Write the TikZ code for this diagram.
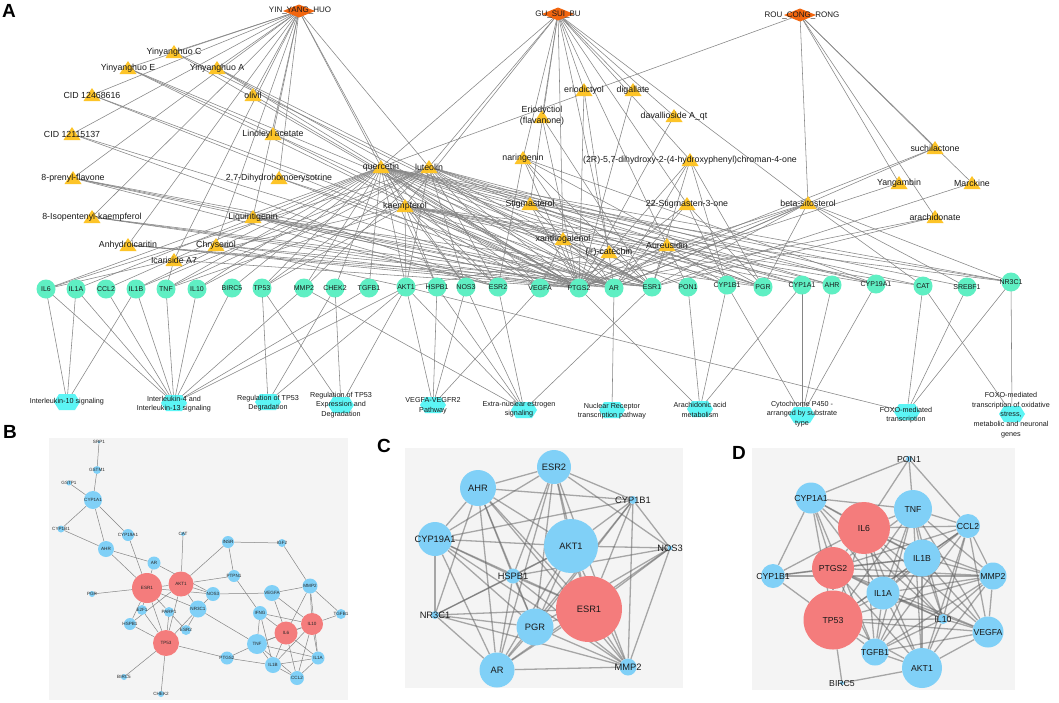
\documentclass[tikz,border=0pt]{standalone}
\usepackage{fontspec}
\setmainfont{Liberation Sans}
\pgfdeclarelayer{bgl}
\pgfdeclarelayer{edgel}
\pgfsetlayers{bgl,edgel,main}
\definecolor{herbc}{HTML}{F2660F}
\definecolor{cmpc}{HTML}{FDC428}
\definecolor{tgtc}{HTML}{5FEFC3}
\definecolor{pwc}{HTML}{5CF5F5}
\definecolor{bluec}{HTML}{80D0F7}
\definecolor{redc}{HTML}{F47C7C}
\definecolor{bgc}{HTML}{F4F4F4}
\definecolor{edgec}{HTML}{858585}
\newcommand\mytri[1]{\fill[cmpc] (#1) ++(0,-7) -- ++(8.5,13) -- ++(-17,0) -- cycle;}
\newcommand\myhex[1]{\fill[pwc] (#1) ++(-13,0) -- ++(5,-8) -- ++(16,0) -- ++(5,8) -- ++(-5,8) -- ++(-16,0) -- cycle;}
\newcommand\mydia[1]{\fill[herbc] (#1) ++(-16,0) -- ++(16,-6.5) -- ++(16,6.5) -- ++(-16,6.5) -- cycle;}
\begin{document}
\begin{tikzpicture}[x=1pt,y=-1pt,
  edgeA/.style={draw=edgec,line width=0.55pt},
  edgeB/.style={draw=edgec,line width=0.5pt},
  edgeC/.style={draw=black!60,line width=1.3pt,opacity=0.55},
  lblA/.style={font=\fontsize{8.8}{10.5}\selectfont,inner sep=0pt,align=center,text=black!90},
  hlbl/.style={font=\fontsize{8}{9}\selectfont,inner sep=0pt,text=black!90},
  tgt/.style={circle,fill=tgtc,minimum size=19pt,inner sep=0pt},
  tlbl/.style={font=\fontsize{7}{8}\selectfont,inner sep=0pt,text=black!90},
  pwl/.style={font=\fontsize{7.2}{9.6}\selectfont,inner sep=0pt,align=center,text=black!90},
  pnode/.style={circle,inner sep=0pt},
  blbl/.style={font=\fontsize{4.6}{5}\selectfont,inner sep=0pt,text=black!85},
  clbl/.style={font=\fontsize{9.3}{10}\selectfont,inner sep=0pt,text=black!90},
  dlbl/.style={font=\fontsize{8.7}{10}\selectfont,inner sep=0pt,text=black!90},
  letter/.style={font=\fontsize{19}{19}\selectfont\bfseries,inner sep=0pt}]
\useasboundingbox (0,0) rectangle (1059,702);
\begin{pgfonlayer}{bgl}
\fill[white] (0,0) rectangle (1059,702);
\fill[bgc] (49,438) rectangle (348,700);
\fill[bgc] (405,448) rectangle (683,688);
\fill[bgc] (752,448) rectangle (1015,690);
\end{pgfonlayer}

% ================= PANEL A =================
\node[letter] (LA) at (9,11) {A};
\coordinate (YYH) at (299,11);
\coordinate (GSB) at (558,14);
\coordinate (RCR) at (800,15);

\coordinate (yC) at (174,52);
\coordinate (yE) at (128,68);
\coordinate (yA) at (217,68);
\coordinate (cid1) at (92,95);
\coordinate (oliv) at (253,95);
\coordinate (cid2) at (72,134);
\coordinate (lino) at (273,134);
\coordinate (quer) at (381,167);
\coordinate (lute) at (429,167);
\coordinate (pren) at (73,178);
\coordinate (dihy) at (279,178);
\coordinate (kaem) at (405,206);
\coordinate (isop) at (92,217);
\coordinate (liqu) at (253,217);
\coordinate (anhy) at (128,245);
\coordinate (chry) at (216,245);
\coordinate (icar) at (174,260);
\coordinate (erio) at (584,90);
\coordinate (diga) at (633,90);
\coordinate (eriF) at (542,117);
\coordinate (dava) at (674,116);
\coordinate (nari) at (523,158);
\coordinate (r2) at (690,160);
\coordinate (such) at (935,148);
\coordinate (yang) at (899,183);
\coordinate (marc) at (972,183);
\coordinate (stig) at (530,204);
\coordinate (st22) at (687,204);
\coordinate (beta) at (808,203);
\coordinate (arac) at (935,217);
\coordinate (xant) at (563,239);
\coordinate (aure) at (667,245);
\coordinate (cate) at (609,252);

\foreach \n/\x/\y in {IL6/46/289,IL1A/76/289,CCL2/106/289,IL1B/136/289,TNF/166/289,IL10/197/289,BIRC5/232/288,TP53/262/288,MMP2/304/288,CHEK2/335/288,TGFB1/369/288,AKT1/406/287,HSPB1/437/287,NOS3/466/287,ESR2/498/287,VEGFA/540/288,PTGS2/579/288,AR/614/288,ESR1/652/287,PON1/688/287,CYP1B1/727/285,PGR/763/287,CYP1A1/802/285,AHR/832/285,CYP19A1/876/284,CAT/923/286,SREBF1/967/287,NR3C1/1011/282}
  \coordinate (t-\n) at (\x,\y);

\coordinate (pw1) at (67,402);
\coordinate (pw2) at (174,403);
\coordinate (pw3) at (268,402);
\coordinate (pw4) at (341,405);
\coordinate (pw5) at (433,405);
\coordinate (pw6) at (524,410);
\coordinate (pw7) at (612,410);
\coordinate (pw8) at (700,409);
\coordinate (pw9) at (802,415);
\coordinate (pw10) at (907,412);
\coordinate (pw11) at (1012,414);

\begin{pgfonlayer}{edgel}
\foreach \c in {yC,yE,yA,cid1,oliv,cid2,lino,quer,lute,pren,dihy,isop,liqu,anhy,chry,icar,kaem}
  \draw[edgeA] (YYH) -- (\c);
\foreach \c in {erio,diga,eriF,dava,nari,r2,stig,st22,beta,xant,aure,cate,lute,quer,kaem}
  \draw[edgeA] (GSB) -- (\c);
\foreach \c in {quer,beta,such,yang,marc,arac}
  \draw[edgeA] (RCR) -- (\c);

\foreach \t in {IL6,IL1A,CCL2,IL1B,TNF,IL10,BIRC5,TP53,MMP2,CHEK2,TGFB1,AKT1,HSPB1,NOS3,ESR2,VEGFA,PTGS2,AR,ESR1,PON1,CYP1B1,PGR,CYP1A1,AHR,CYP19A1,CAT,SREBF1,NR3C1} \draw[edgeA] (quer) -- (t-\t);
\foreach \t in {IL6,TNF,IL10,IL1B,TP53,MMP2,AKT1,NOS3,ESR2,VEGFA,PTGS2,AR,ESR1,PGR,CYP1B1,CYP1A1,CYP19A1,AHR} \draw[edgeA] (lute) -- (t-\t);
\foreach \t in {IL6,TNF,TP53,AKT1,HSPB1,NOS3,ESR2,VEGFA,PTGS2,AR,ESR1,PGR,CYP1A1,AHR,CYP19A1,CAT,NR3C1} \draw[edgeA] (kaem) -- (t-\t);
\foreach \t in {PTGS2,ESR1} \draw[edgeA] (yC) -- (t-\t);
\foreach \t in {PTGS2,AR,ESR1} \draw[edgeA] (yE) -- (t-\t);
\foreach \t in {PTGS2,ESR1,AR} \draw[edgeA] (yA) -- (t-\t);
\foreach \t in {PTGS2,AR} \draw[edgeA] (cid1) -- (t-\t);
\foreach \t in {PTGS2} \draw[edgeA] (oliv) -- (t-\t);
\foreach \t in {PTGS2,ESR2} \draw[edgeA] (cid2) -- (t-\t);
\foreach \t in {PTGS2} \draw[edgeA] (lino) -- (t-\t);
\foreach \t in {PTGS2,AR,ESR1,ESR2} \draw[edgeA] (pren) -- (t-\t);
\foreach \t in {PTGS2,AR} \draw[edgeA] (dihy) -- (t-\t);
\foreach \t in {PTGS2,AR,ESR1} \draw[edgeA] (isop) -- (t-\t);
\foreach \t in {PTGS2,ESR1,ESR2,AR,PGR} \draw[edgeA] (liqu) -- (t-\t);
\foreach \t in {PTGS2,AR,ESR1} \draw[edgeA] (anhy) -- (t-\t);
\foreach \t in {PTGS2,ESR1,AKT1} \draw[edgeA] (chry) -- (t-\t);
\foreach \t in {PTGS2,TNF} \draw[edgeA] (icar) -- (t-\t);
\foreach \t in {PTGS2,AR} \draw[edgeA] (erio) -- (t-\t);
\foreach \t in {PTGS2} \draw[edgeA] (diga) -- (t-\t);
\foreach \t in {PTGS2,ESR1} \draw[edgeA] (eriF) -- (t-\t);
\foreach \t in {PTGS2} \draw[edgeA] (dava) -- (t-\t);
\foreach \t in {PTGS2,ESR1,PGR,AR,CYP19A1,ESR2} \draw[edgeA] (nari) -- (t-\t);
\foreach \t in {PTGS2,ESR1,PGR,CYP1B1,AR} \draw[edgeA] (r2) -- (t-\t);
\foreach \t in {PTGS2,PGR,NR3C1,AR} \draw[edgeA] (stig) -- (t-\t);
\foreach \t in {PGR,PTGS2,AR,CYP1B1} \draw[edgeA] (st22) -- (t-\t);
\foreach \t in {PTGS2,AR,ESR1,PGR,CAT,SREBF1,NR3C1,VEGFA} \draw[edgeA] (beta) -- (t-\t);
\foreach \t in {PTGS2,VEGFA,ESR1} \draw[edgeA] (xant) -- (t-\t);
\foreach \t in {PTGS2,ESR1,AKT1} \draw[edgeA] (cate) -- (t-\t);
\foreach \t in {PTGS2,ESR1,AR,PON1,CYP1B1} \draw[edgeA] (aure) -- (t-\t);
\foreach \t in {PTGS2,AR} \draw[edgeA] (such) -- (t-\t);
\foreach \t in {PTGS2} \draw[edgeA] (yang) -- (t-\t);
\foreach \t in {ESR1} \draw[edgeA] (marc) -- (t-\t);
\foreach \t in {PTGS2,ESR1} \draw[edgeA] (arac) -- (t-\t);

\foreach \t in {IL6,IL1A,IL1B} \draw[edgeA] (pw1) -- (t-\t);
\foreach \t in {IL6,IL1A,CCL2,IL1B,TNF,IL10,BIRC5,MMP2,TGFB1,AKT1} \draw[edgeA] (pw2) -- (t-\t);
\foreach \t in {TP53,CHEK2,AKT1} \draw[edgeA] (pw3) -- (t-\t);
\foreach \t in {TP53,CHEK2,AKT1} \draw[edgeA] (pw4) -- (t-\t);
\foreach \t in {AKT1,HSPB1,NOS3,VEGFA} \draw[edgeA] (pw5) -- (t-\t);
\foreach \t in {MMP2,AKT1,HSPB1,NOS3,ESR2,ESR1} \draw[edgeA] (pw6) -- (t-\t);
\foreach \t in {AR} \draw[edgeA] (pw7) -- (t-\t);
\foreach \t in {PTGS2,PON1,CYP1B1,CYP1A1} \draw[edgeA] (pw8) -- (t-\t);
\foreach \t in {CYP1B1,CYP1A1,AHR,CYP19A1} \draw[edgeA] (pw9) -- (t-\t);
\foreach \t in {AKT1,CAT,SREBF1,NR3C1} \draw[edgeA] (pw10) -- (t-\t);
\foreach \t in {CAT,NR3C1} \draw[edgeA] (pw11) -- (t-\t);
\end{pgfonlayer}

% shapes
\foreach \h in {YYH,GSB,RCR} \mydia{\h};
\foreach \c in {yC,yE,yA,cid1,oliv,cid2,lino,quer,lute,pren,dihy,kaem,isop,liqu,anhy,chry,icar,erio,diga,eriF,dava,nari,r2,such,yang,marc,stig,st22,beta,arac,xant,aure,cate} \mytri{\c};
\foreach \n in {IL6,IL1A,CCL2,IL1B,TNF,IL10,BIRC5,TP53,MMP2,CHEK2,TGFB1,AKT1,HSPB1,NOS3,ESR2,VEGFA,PTGS2,AR,ESR1,PON1,CYP1B1,PGR,CYP1A1,AHR,CYP19A1,CAT,SREBF1,NR3C1}
  {\node[tgt] (tc-\n) at (t-\n) {}; \node[tlbl] (tl-\n) at (t-\n) {\n};}
\foreach \p in {pw1,pw2,pw3,pw4,pw5,pw6,pw7,pw8,pw9,pw10,pw11} \myhex{\p};

% labels
\node[hlbl] (l-YYH) at (300,10) {YIN\_YANG\_HUO};
\node[hlbl] (l-GSB) at (558,14) {GU\_SUI\_BU};
\node[hlbl] (l-RCR) at (802,15) {ROU\_CONG\_RONG};
\node[lblA] (l-yC) at (yC) {Yinyanghuo C};
\node[lblA] (l-yE) at (yE) {Yinyanghuo E};
\node[lblA] (l-yA) at (yA) {Yinyanghuo A};
\node[lblA] (l-cid1) at (cid1) {CID 12468616};
\node[lblA] (l-oliv) at (oliv) {olivil};
\node[lblA] (l-cid2) at (cid2) {CID 12115137};
\node[lblA] (l-lino) at (lino) {Linoleyl acetate};
\node[lblA] (l-quer) at (quer) {quercetin};
\node[lblA] (l-lute) at (lute) {luteolin};
\node[lblA] (l-pren) at (pren) {8-prenyl-flavone};
\node[lblA] (l-dihy) at (dihy) {2,7-Dihydrohomoerysotrine};
\node[lblA] (l-kaem) at (kaem) {kaempferol};
\node[lblA] (l-isop) at (isop) {8-Isopentenyl-kaempferol};
\node[lblA] (l-liqu) at (liqu) {Liquiritigenin};
\node[lblA] (l-anhy) at (anhy) {Anhydroicaritin};
\node[lblA] (l-chry) at (chry) {Chryseriol};
\node[lblA] (l-icar) at (icar) {Icariside A7};
\node[lblA] (l-erio) at (erio) {eriodictyol};
\node[lblA] (l-diga) at (diga) {digallate};
\node[lblA] (l-eriF) at (542,115.5) {Eriodyctiol\\(flavanone)};
\node[lblA] (l-dava) at (dava) {davallioside A\_qt};
\node[lblA] (l-nari) at (nari) {naringenin};
\node[lblA] (l-r2) at (r2) {(2R)-5,7-dihydroxy-2-(4-hydroxyphenyl)chroman-4-one};
\node[lblA] (l-such) at (such) {suchilactone};
\node[lblA] (l-yang) at (yang) {Yangambin};
\node[lblA] (l-marc) at (marc) {Marckine};
\node[lblA] (l-stig) at (stig) {Stigmasterol};
\node[lblA] (l-st22) at (st22) {22-Stigmasten-3-one};
\node[lblA] (l-beta) at (beta) {beta-sitosterol};
\node[lblA] (l-arac) at (arac) {arachidonate};
\node[lblA] (l-xant) at (xant) {xanthogalenol};
\node[lblA] (l-aure) at (aure) {Aureusidin};
\node[lblA] (l-cate) at (cate) {(+)-catechin};

\node[pwl] (l-pw1) at (67,402) {Interleukin-10 signaling};
\node[pwl] (l-pw2) at (174,404) {Interleukin-4 and\\Interleukin-13 signaling};
\node[pwl] (l-pw3) at (268,403) {Regulation of TP53\\Degradation};
\node[pwl] (l-pw4) at (341,405) {Regulation of TP53\\Expression and\\Degradation};
\node[pwl] (l-pw5) at (433,406) {VEGFA-VEGFR2\\Pathway};
\node[pwl] (l-pw6) at (519,409) {Extra-nuclear estrogen\\signaling};
\node[pwl] (l-pw7) at (612,411) {Nuclear Receptor\\transcription pathway};
\node[pwl] (l-pw8) at (700,410) {Arachidonic acid\\metabolism};
\node[pwl] (l-pw9) at (802,414) {Cytochrome P450 -\\arranged by substrate\\type};
\node[pwl] (l-pw10) at (906,415) {FOXO-mediated\\transcription};
\node[pwl] (l-pw11) at (1011,415) {FOXO-mediated\\transcription of oxidative\\stress,\\metabolic and neuronal\\genes};

% ================= PANEL B =================
\node[letter] (LB) at (10,432) {B};
\foreach \n/\x/\y/\d/\c in {SRP1/99/442/3/bluec,GSTM1/97/470/8/bluec,GSTP1/69/483/5/bluec,CYP1A1/93/500/18/bluec,CYP1B1/61/529/7/bluec,CYP19A1/128/535/12/bluec,CAT/183/534/4/bluec,INSR/228/542/12/bluec,IGF2/282/543/8/bluec,AHR/106/549/16/bluec,AR/154/563/13/bluec,ESR1/147/588/30/redc,AKT1/181/584/25/redc,PTPN1/234/576/12/bluec,PGR/92/594/6/bluec,NOS3/213/594/14/bluec,VEGFA/272/593/16/bluec,MMP2/310/586/15/bluec,E2F1/142/610/10/bluec,PARP1/169/612/10/bluec,NR3C1/198/609/17/bluec,IFNG/260/613/14/bluec,IL10/312/624/22/redc,TGFB1/341/614/10/bluec,HSPB1/130/624/12/bluec,ESR2/186/630/10/bluec,IL6/286/633/23/redc,TNF/257/644/20/bluec,TP53/166/643/26/redc,PTGS2/227/658/13/bluec,IL1A/318/658/13/bluec,IL1B/273/665/16/bluec,CCL2/297/678/14/bluec,BIRC5/124/677/6/bluec,CHEK2/161/694/6/bluec}
  {\node[pnode,fill=\c,minimum size=\d pt] (b-\n) at (\x,\y) {}; \node[blbl] (bl-\n) at (\x,\y) {\n};}
\begin{pgfonlayer}{edgel}
\foreach \a/\b in {SRP1/GSTM1,GSTM1/CYP1A1,GSTP1/CYP1A1,CYP1A1/CYP1B1,CYP1A1/AHR,CYP1A1/CYP19A1,CYP1B1/AHR,AHR/ESR1,AHR/AR,CYP19A1/ESR1,CAT/AKT1,INSR/IGF2,INSR/AKT1,INSR/PTPN1,IGF2/MMP2,AR/NOS3,AR/ESR1,PTPN1/AKT1,PTPN1/IFNG,PGR/ESR1,ESR1/AKT1,ESR1/NOS3,ESR1/NR3C1,ESR1/E2F1,ESR1/PARP1,ESR1/TP53,ESR1/HSPB1,AKT1/NOS3,AKT1/NR3C1,AKT1/TP53,AKT1/HSPB1,NOS3/VEGFA,NOS3/NR3C1,VEGFA/MMP2,VEGFA/IL6,VEGFA/IL10,MMP2/IL6,MMP2/IL10,MMP2/TGFB1,MMP2/IL1A,NR3C1/ESR2,NR3C1/TP53,NR3C1/TNF,E2F1/TP53,PARP1/TP53,PARP1/ESR2,HSPB1/TP53,TP53/BIRC5,TP53/CHEK2,TP53/PTGS2,IFNG/IL10,IFNG/IL6,IFNG/TNF,IFNG/IL1B,IL10/TGFB1,IL10/IL6,IL10/IL1A,IL10/CCL2,IL10/IL1B,IL10/TNF,IL6/TNF,IL6/IL1B,IL6/IL1A,IL6/CCL2,TNF/PTGS2,TNF/IL1B,TNF/IL1A,TNF/CCL2,PTGS2/IL1B,IL1B/CCL2,IL1B/IL1A,IL1A/CCL2}
  \draw[edgeB] (b-\a) -- (b-\b);
\end{pgfonlayer}

% ================= PANEL C =================
\node[letter] (LC) at (384,446) {C};
\foreach \n/\x/\y/\d/\c in {ESR2/554/467/34/bluec,AHR/478/488/36/bluec,CYP1B1/633/500/8/bluec,CYP19A1/435/539/34/bluec,AKT1/571/546/54/bluec,NOS3/670/548/5/bluec,HSPB1/513/576/15/bluec,ESR1/589/609/66/redc,NR3C1/435/615/8/bluec,PGR/535/627/37/bluec,AR/497/670/35/bluec,MMP2/628/667/17/bluec}
  {\node[pnode,fill=\c,minimum size=\d pt] (c-\n) at (\x,\y) {}; \node[clbl] (cl-\n) at (\x,\y) {\n};}
\begin{pgfonlayer}{edgel}
\foreach \a/\b in {ESR2/AHR,ESR2/CYP1B1,ESR2/CYP19A1,ESR2/AKT1,ESR2/NOS3,ESR2/HSPB1,ESR2/ESR1,ESR2/PGR,ESR2/AR,ESR2/MMP2,AHR/CYP1B1,AHR/CYP19A1,AHR/AKT1,AHR/HSPB1,AHR/ESR1,AHR/NR3C1,AHR/PGR,AHR/AR,AHR/MMP2,CYP1B1/CYP19A1,CYP1B1/AKT1,CYP1B1/NOS3,CYP1B1/ESR1,CYP1B1/PGR,CYP1B1/AR,CYP1B1/MMP2,CYP19A1/AKT1,CYP19A1/HSPB1,CYP19A1/ESR1,CYP19A1/NR3C1,CYP19A1/PGR,CYP19A1/AR,CYP19A1/MMP2,AKT1/NOS3,AKT1/HSPB1,AKT1/ESR1,AKT1/NR3C1,AKT1/PGR,AKT1/AR,AKT1/MMP2,NOS3/HSPB1,NOS3/ESR1,NOS3/PGR,NOS3/AR,NOS3/MMP2,HSPB1/ESR1,HSPB1/NR3C1,HSPB1/PGR,HSPB1/AR,HSPB1/MMP2,ESR1/NR3C1,ESR1/PGR,ESR1/AR,ESR1/MMP2,NR3C1/PGR,NR3C1/AR,NR3C1/MMP2,PGR/AR,PGR/MMP2,AR/MMP2}
  \draw[edgeC] (c-\a) -- (c-\b);
\end{pgfonlayer}

% ================= PANEL D =================
\node[letter] (LD) at (739,453) {D};
\foreach \n/\x/\y/\d/\c in {PON1/909/459/6/bluec,CYP1A1/811/498/31/bluec,TNF/913/509/38/bluec,IL6/864/528/52/redc,CCL2/968/526/24/bluec,IL1B/922/558/37/bluec,PTGS2/833/568/42/redc,CYP1B1/773/576/24/bluec,MMP2/993/576/27/bluec,IL1A/883/593/33/bluec,TP53/833/620/59/redc,IL10/943/619/10/bluec,VEGFA/988/632/31/bluec,TGFB1/875/652/27/bluec,AKT1/922/668/40/bluec,BIRC5/842/683/4/bluec}
  {\node[pnode,fill=\c,minimum size=\d pt] (d-\n) at (\x,\y) {}; \node[dlbl] (dl-\n) at (\x,\y) {\n};}
\begin{pgfonlayer}{edgel}
\foreach \a [count=\i] in {TNF,IL6,CCL2,IL1B,PTGS2,MMP2,IL1A,TP53,IL10,VEGFA,TGFB1,AKT1}
  {\foreach \b [count=\j] in {TNF,IL6,CCL2,IL1B,PTGS2,MMP2,IL1A,TP53,IL10,VEGFA,TGFB1,AKT1}
    {\ifnum\j>\i \draw[edgeC] (d-\a) -- (d-\b); \fi}}
\foreach \a/\b in {CYP1A1/PON1,CYP1A1/TNF,CYP1A1/CYP1B1,CYP1A1/PTGS2,CYP1A1/IL6,CYP1A1/IL1B,CYP1A1/IL1A,CYP1A1/TP53,CYP1A1/TGFB1,CYP1A1/IL10,CYP1B1/IL6,CYP1B1/PTGS2,CYP1B1/TP53,CYP1B1/IL1B,CYP1B1/MMP2,PON1/TNF,PON1/CCL2,PON1/IL6,BIRC5/TP53,BIRC5/AKT1}
  \draw[edgeC] (d-\a) -- (d-\b);
\end{pgfonlayer}
\end{tikzpicture}
\end{document}
